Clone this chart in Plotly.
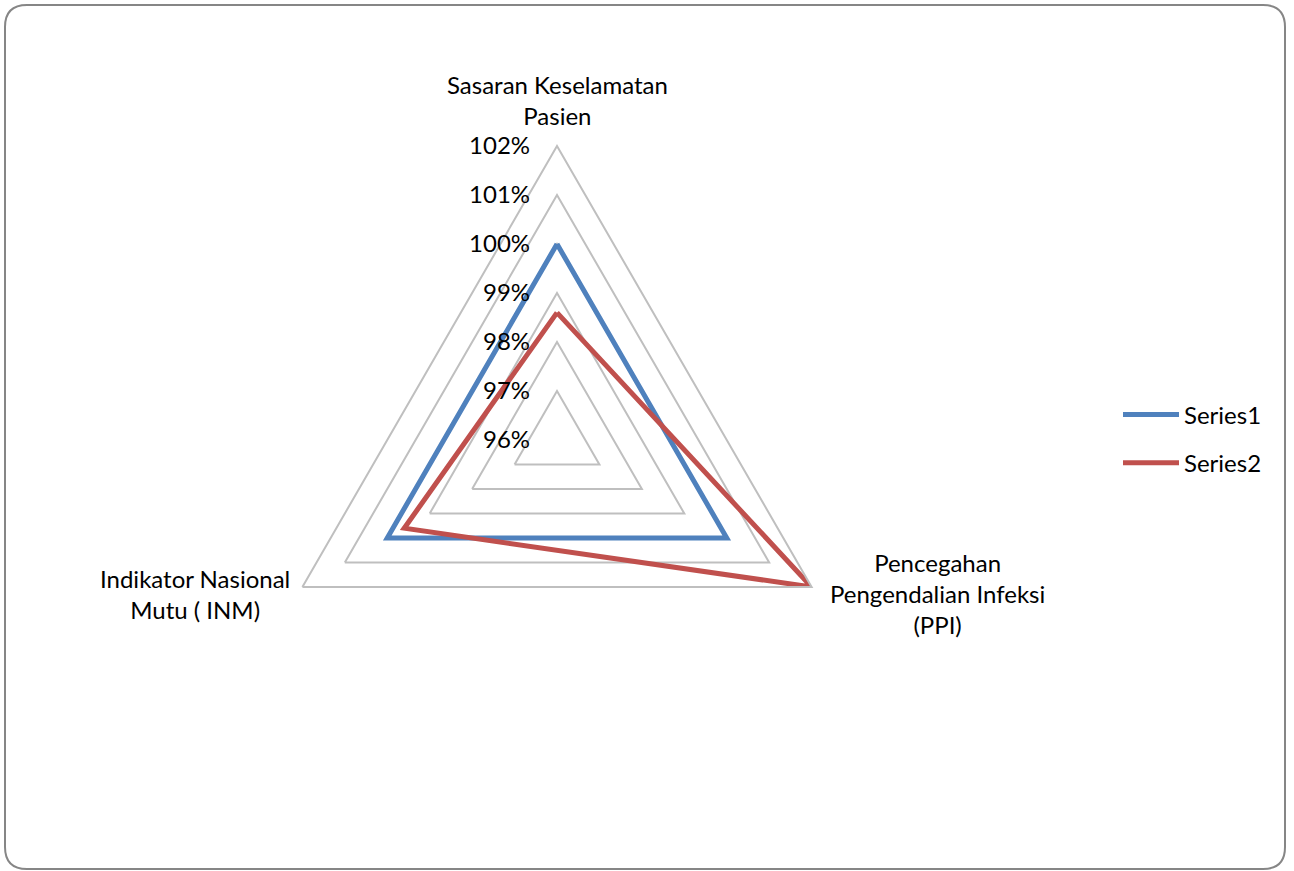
import plotly.graph_objects as go

# ---- data ----
categories = ["Sasaran Keselamatan Pasien",
              "Pencegahan Pengendalian Infeksi (PPI)",
              "Indikator Nasional Mutu ( INM)"]
category_labels = ["Sasaran Keselamatan<br>Pasien",
                   "Pencegahan<br>Pengendalian Infeksi<br>(PPI)",
                   "Indikator Nasional<br>Mutu ( INM)"]
series_names = ["Series1", "Series2"]
series1 = [1.00, 1.00, 1.00]
series2 = [0.986, 1.02, 0.996]
radial_ticks = [0.96, 0.97, 0.98, 0.99, 1.00, 1.01, 1.02]

W, H = 1294, 871
FONT = "Lato"
FS = 24

fig = go.Figure()
for name, vals, color in [(series_names[0], series1, "#4F81BD"),
                          (series_names[1], series2, "#C0504D")]:
    fig.add_trace(go.Scatterpolar(
        r=vals + vals[:1],
        theta=categories + categories[:1],
        mode="lines",
        name=name,
        legendgroup=name,
        line=dict(color=color, width=5),
    ))

def px_x(v):
    return v / W

def px_y(v):
    return 1 - v / H

# rounded chart border
x0, x1, y0, y1, rad = 5, 1285, 5, 869, 22
path = (f"M{px_x(x0+rad)},{px_y(y0)} L{px_x(x1-rad)},{px_y(y0)} "
        f"Q{px_x(x1)},{px_y(y0)} {px_x(x1)},{px_y(y0+rad)} "
        f"L{px_x(x1)},{px_y(y1-rad)} Q{px_x(x1)},{px_y(y1)} {px_x(x1-rad)},{px_y(y1)} "
        f"L{px_x(x0+rad)},{px_y(y1)} Q{px_x(x0)},{px_y(y1)} {px_x(x0)},{px_y(y1-rad)} "
        f"L{px_x(x0)},{px_y(y0+rad)} Q{px_x(x0)},{px_y(y0)} {px_x(x0+rad)},{px_y(y0)} Z")

cx, cy, R = 557, 440, 294

# category label placement (centered multi-line text, like the original)
label_pos = [(cx, 100), (938, 593), (195, 594)]
annotations = [dict(x=px_x(x), y=px_y(y), xref="paper", yref="paper",
                    text=t, showarrow=False, align="center",
                    xanchor="center", yanchor="middle",
                    font=dict(family=FONT, size=FS, color="#000000"))
               for t, (x, y) in zip(category_labels, label_pos)]

fig.update_layout(
    width=W, height=H,
    margin=dict(l=0, r=0, t=0, b=0),
    paper_bgcolor="white",
    font=dict(family=FONT, size=FS, color="#000000"),
    polar=dict(
        domain=dict(x=[px_x(cx - R), px_x(cx + R)], y=[px_y(cy + R), px_y(cy - R)]),
        bgcolor="white",
        gridshape="linear",
        radialaxis=dict(
            range=[radial_ticks[0], radial_ticks[-1]],
            tickvals=radial_ticks,
            tickformat=".0%",
            angle=90,
            tickangle=90,
            side="counterclockwise",
            showline=False,
            ticks="outside",
            ticklen=18,
            tickcolor="rgba(0,0,0,0)",
            gridcolor="#BFBFBF",
            gridwidth=2,
            tickfont=dict(family=FONT, size=FS, color="#000000"),
        ),
        angularaxis=dict(
            direction="clockwise",
            rotation=90,
            showgrid=False,
            showline=True,
            linecolor="#BFBFBF",
            linewidth=2,
            ticks="",
            showticklabels=False,
        ),
    ),
    legend=dict(
        x=px_x(1118), y=px_y(439), xanchor="left", yanchor="middle",
        font=dict(family=FONT, size=FS, color="#000000"),
        tracegroupgap=14, itemwidth=56,
        bgcolor="rgba(0,0,0,0)",
    ),
    annotations=annotations,
    shapes=[dict(type="path", xref="paper", yref="paper", path=path,
                 line=dict(color="#868686", width=2), layer="above")],
)

fig.write_html("out.html")
